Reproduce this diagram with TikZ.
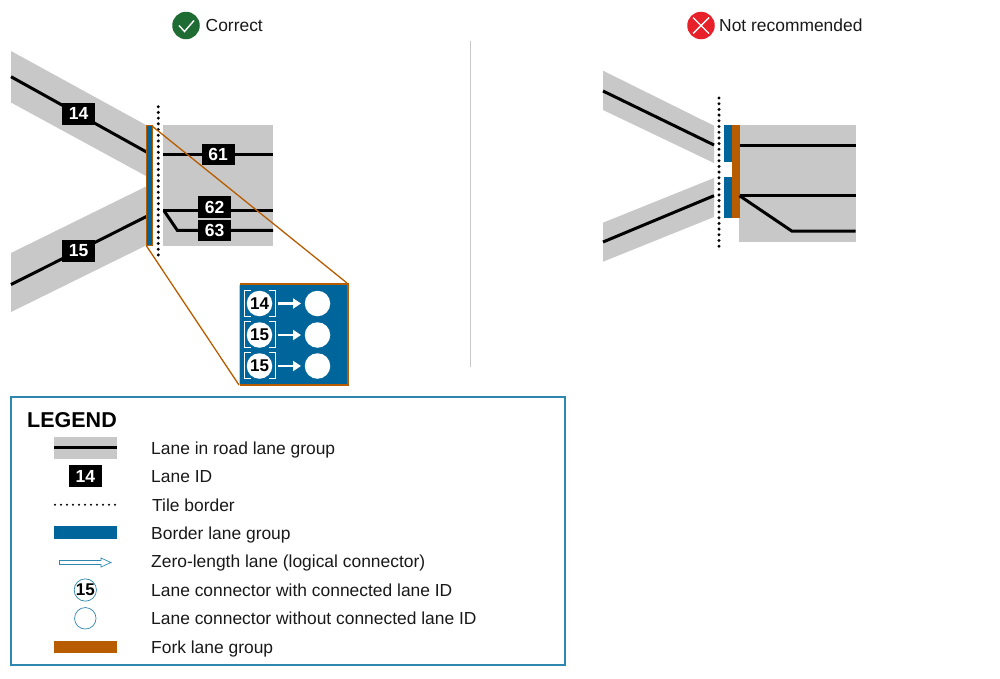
\documentclass[tikz,border=0pt]{standalone}
\usepackage{fontspec}
\setmainfont{Liberation Sans}
\usetikzlibrary{arrows.meta}
\definecolor{roadgray}{HTML}{C8C8C8}
\definecolor{borderblue}{HTML}{00659B}
\definecolor{forkorange}{HTML}{B85C00}
\definecolor{legendframe}{HTML}{2F86AE}
\definecolor{okgreen}{HTML}{1E6B34}
\definecolor{badred}{HTML}{E8202A}
\tikzset{
 x=1pt,y=-1pt,
 road/.style={fill=roadgray,draw=none},
 laneline/.style={draw=black,line width=3pt},
 laneid/.style={fill=black,text=white,font=\bfseries\fontsize{17.5}{17.5}\selectfont,inner sep=0pt,minimum width=33pt,minimum height=21.5pt},
 tileborder/.style={draw=black,line width=3.3pt,line cap=round,dash pattern=on 0pt off 5.7pt},
 bordergroup/.style={fill=borderblue,draw=none},
 forkgroup/.style={fill=forkorange,draw=none},
 zoomline/.style={draw=forkorange,line width=1.3pt},
 txt/.style={anchor=base west,inner sep=0pt,font=\fontsize{17.42}{17.42}\selectfont,text=black!90},
 conn/.style={circle,fill=white,inner sep=0pt,minimum size=25.5pt,font=\bfseries\fontsize{17}{17}\selectfont},
 whitearrow/.style={draw=white,line width=2.4pt,-{Triangle[length=8pt,width=10pt]}},
 legconn/.style={circle,draw=legendframe,line width=0.7pt,fill=white,inner sep=0pt,minimum size=21.5pt,font=\bfseries\fontsize{17}{17}\selectfont},
}
\newcommand{\cornerbox}[2]{%
 \draw[white,line width=1pt] (#1-9,#2-13)--(#1-15.5,#2-13)--(#1-15.5,#2+13)--(#1-9,#2+13);
 \draw[white,line width=1pt] (#1+9,#2-13)--(#1+15.5,#2-13)--(#1+15.5,#2+13)--(#1+9,#2+13);}
\begin{document}
\begin{tikzpicture}
\useasboundingbox (0,0) rectangle (1000,678);
% headings
\node[circle,fill=okgreen,minimum size=27.5pt,inner sep=0pt] (okicon) at (186,25.5) {};
\draw[white,line width=1.4pt] (179,25.5)--(184.5,31.5)--(194,20.5);
\node[txt] (oktext) at (205.5,31.5) {Correct};
\node[circle,fill=badred,minimum size=27.5pt,inner sep=0pt] (badicon) at (701,25.5) {};
\draw[white,line width=1.4pt] (693,17.5)--(709,33.5) (709,17.5)--(693,33.5);
\node[txt] (badtext) at (719,31.5) {Not recommended};
% divider
\draw[roadgray,line width=1.5pt] (470.5,41)--(470.5,367);
% LEFT
\fill[road] (11,51)--(146,125)--(146,176)--(11,102.5)--cycle;
\fill[road] (11,253)--(146,186.5)--(146,245.5)--(11,312)--cycle;
\fill[road] (163.3,125) rectangle (273,246);
\coordinate (a1) at (11,76.7); \coordinate (a2) at (146.5,152);
\coordinate (b1) at (11,284.5); \coordinate (b2) at (146.5,216.5);
\draw[laneline] (a1)--(a2);
\draw[laneline] (b1)--(b2);
\draw[laneline] (163.3,154.3)--(273,154.3);
\draw[laneline] (163.3,210.7)--(273,210.7);
\draw[laneline] (164,210.7)--(177.3,230.3)--(273,230.3);
\node[laneid] (n14) at (78.7,113.8) {14};
\node[laneid] (n15) at (78.7,250.8) {15};
\node[laneid] (n61) at (218,154.5) {61};
\node[laneid] (n62) at (214.5,207.2) {62};
\node[laneid] (n63) at (214.5,230.5) {63};
\draw[tileborder] (158.3,106.7)--(158.3,259);
% zoom lines
\draw[zoomline] (152,126)--(347,283);
\draw[zoomline] (146.5,246)--(239,385);
\fill[forkorange] (146.2,125) rectangle (153,246.4);
\fill[borderblue] (147.2,126) rectangle (152,245.4);
% zoom box
\fill[borderblue] (239.5,283.5) rectangle (347.5,385);
\draw[forkorange,line width=2pt] (239.5,283.5)--(347.5,283.5)--(347.5,385)--(239.5,385);
\draw[line width=1pt,draw=roadgray] (239.3,284.5)--(239.3,384);
\foreach \y/\b/\t/\nm in {303.5/303.3/14/p,335/334.3/15/q,366/365.5/15/r}{
 \cornerbox{259.5}{\b}
 \node[conn] (c\nm) at (259.5,\y) {\t};
 \node[conn] (d\nm) at (317.5,\y) {};
 \draw[whitearrow] (278,\y)--(301,\y);
}
% RIGHT
\fill[road] (603,70.7)--(714,125.7)--(714,163)--(603,110)--cycle;
\fill[road] (603,222.7)--(714,178)--(714,217)--(603,261.7)--cycle;
\fill[road] (739.3,124.5) rectangle (855.7,241.7);
\draw[laneline] (603,91)--(714,145);
\draw[laneline] (603,242)--(714,195.7);
\draw[tileborder] (719,98)--(719,250);
\fill[bordergroup] (723.7,124.5) rectangle (731.5,162.3);
\fill[bordergroup] (723.7,177.3) rectangle (731.5,218);
\fill[forkgroup] (731.5,124.5) rectangle (739.5,218);
\draw[laneline] (739.5,145.7)--(855.7,145.7);
\draw[laneline] (739.5,195.7)--(855.7,195.7);
\draw[laneline] (739.5,195.7)--(791.7,231)--(855.7,231);
% LEGEND
\draw[legendframe,line width=1.5pt] (11,397) rectangle (565,665);
\node[anchor=west,inner sep=0pt,font=\bfseries\fontsize{21.5}{21.5}\selectfont] (legtitle) at (27,420) {LEGEND};
\fill[road] (54,437) rectangle (117,458.7);
\draw[draw=black,line width=3pt] (54,447.7)--(117,447.7);
\node[txt] (l1) at (151,454) {Lane in road lane group};
\node[laneid] (leg14) at (85.3,476.2) {14};
\node[txt] (l2) at (151,482.5) {Lane ID};
\draw[draw=black,line width=2.4pt,line cap=round,dash pattern=on 0pt off 6pt] (55,504.7)--(116,504.7);
\node[txt] (l3) at (152,511) {Tile border};
\fill[bordergroup] (54,526.3) rectangle (117,539);
\node[txt] (l4) at (151,539.5) {Border lane group};
\draw[legendframe,line width=0.7pt,fill=white] (59.5,560.5)--(101,560.5)--(101,558)--(111,562.5)--(101,567)--(101,564.5)--(59.5,564.5)--cycle;
\node[txt] (l5) at (151,567.7) {Zero-length lane (logical connector)};
\node[legconn] (leg15) at (85.3,590) {15};
\node[txt] (l6) at (151,596) {Lane connector with connected lane ID};
\node[legconn] (legempty) at (85.3,618.3) {};
\node[txt] (l7) at (151,624.5) {Lane connector without connected lane ID};
\fill[forkgroup] (54,640.7) rectangle (117,653.3);
\node[txt] (l8) at (151,653) {Fork lane group};
\end{tikzpicture}
\end{document}
